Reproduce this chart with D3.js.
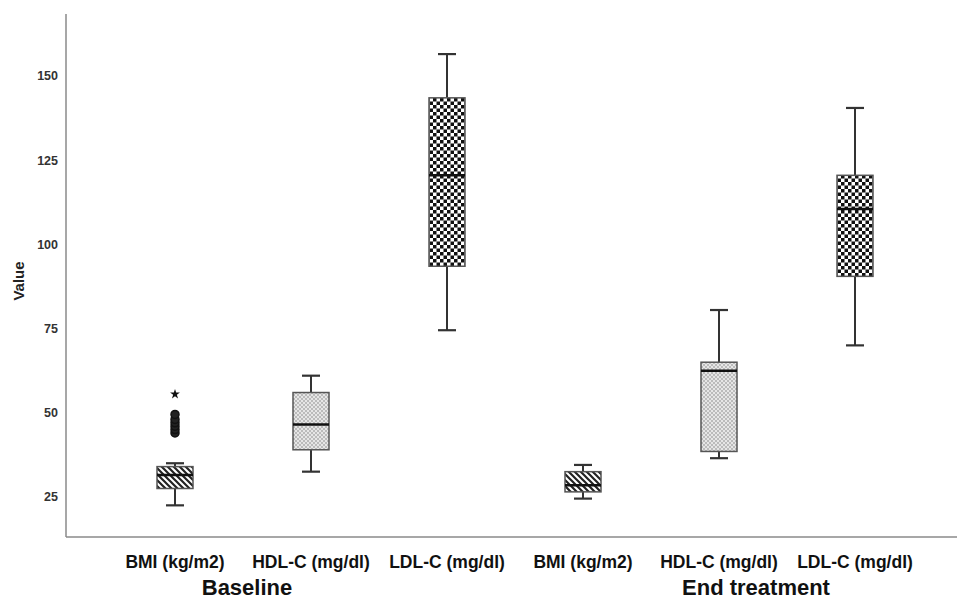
<!DOCTYPE html>
<html>
    <head>
        <meta charset="utf-8">
        <title>boxplot</title>
        <script src="https://d3js.org/d3.v7.min.js"></script>
        <style>
            body { margin: 0; background: #fff; }
            text { font-family: "Liberation Sans", Arial, sans-serif; font-weight: bold; }
        </style>
    </head>
    <body>
        <div id="chart"></div>
        <script>
            // Données
            const groups = ["Baseline", "End treatment"];
            const variables = ["BMI (kg/m2)", "HDL-C (mg/dl)", "LDL-C (mg/dl)"];
            const boxMin    = [22.5, 32.5, 74.5, 24.5, 36.5, 70];
            const boxQ1     = [27.5, 39, 93.5, 26.5, 38.5, 90.5];
            const boxMedian = [31.5, 46.5, 120.5, 28.5, 62.5, 110.5];
            const boxQ3     = [34, 56, 143.5, 32.5, 65, 120.5];
            const boxMax    = [35, 61, 156.5, 34.5, 80.5, 140.5];
            const outliers  = [44, 45, 46, 47, 48, 49.5]; // BMI baseline
            const extremes  = [55.5];                   // BMI baseline (étoile)
            const yTicks    = [25, 50, 75, 100, 125, 150];
            const patternOf = ["stripe", "dots", "checker"];

            const W = 957, H = 599;
            const plotLeft = 66, plotTop = 14, plotBottom = 537;

            const boxes = [];
            groups.forEach((g, gi) => variables.forEach((v, vi) => {
                const i = gi * 3 + vi;
                boxes.push({ key: g + "|" + v, group: g, label: v, pat: patternOf[vi],
                    min: boxMin[i], q1: boxQ1[i], med: boxMedian[i], q3: boxQ3[i], max: boxMax[i] });
            }));

            const svg = d3.select("#chart").append("svg")
                .attr("width", W).attr("height", H);

            // Motifs de remplissage
            const defs = svg.append("defs");
            const p1 = defs.append("pattern").attr("id", "stripe")
                .attr("patternUnits", "userSpaceOnUse").attr("width", 6).attr("height", 6);
            p1.append("rect").attr("width", 6).attr("height", 6).attr("fill", "#fff");
            p1.append("path").attr("d", "M-1,-1L7,7M-1,5L1,7M5,-1L7,1")
                .attr("stroke", "#222").attr("stroke-width", 2.2);

            const p2 = defs.append("pattern").attr("id", "dots")
                .attr("patternUnits", "userSpaceOnUse").attr("width", 4).attr("height", 4);
            p2.append("rect").attr("width", 4).attr("height", 4).attr("fill", "#e6e6e6");
            p2.append("rect").attr("width", 2).attr("height", 2).attr("fill", "#bbb");
            p2.append("rect").attr("x", 2).attr("y", 2).attr("width", 2).attr("height", 2).attr("fill", "#bbb");

            const p3 = defs.append("pattern").attr("id", "checker")
                .attr("patternUnits", "userSpaceOnUse").attr("width", 7).attr("height", 7);
            p3.append("rect").attr("width", 7).attr("height", 7).attr("fill", "#fff");
            p3.append("rect").attr("width", 3.5).attr("height", 3.5).attr("fill", "#111");
            p3.append("rect").attr("x", 3.5).attr("y", 3.5).attr("width", 3.5).attr("height", 3.5).attr("fill", "#111");

            // Échelles
            const x = d3.scalePoint()
                .domain(boxes.map(d => d.key))
                .range([175, 855]);

            const y = d3.scaleLinear()
                .domain([13.1, 168.4])
                .range([plotBottom, plotTop]);

            const bw = 36, cw = 18;

            // Axes
            const yAxis = svg.append("g")
                .attr("transform", `translate(${plotLeft},0)`)
                .call(d3.axisLeft(y).tickValues(yTicks).tickSize(0).tickPadding(8));
            yAxis.select(".domain").remove();
            yAxis.selectAll("text").attr("font-size", 12.5).attr("fill", "#333");

            svg.append("line").attr("x1", plotLeft).attr("x2", plotLeft)
                .attr("y1", plotTop).attr("y2", plotBottom)
                .attr("stroke", "#8a8a8a").attr("stroke-width", 1.5);
            svg.append("line").attr("x1", plotLeft).attr("x2", W)
                .attr("y1", plotBottom).attr("y2", plotBottom)
                .attr("stroke", "#8a8a8a").attr("stroke-width", 1.5);

            svg.append("text")
                .attr("transform", "translate(24,281) rotate(-90)")
                .attr("text-anchor", "middle")
                .attr("font-size", 15).attr("fill", "#222")
                .text("Value");

            // Boîtes
            const b = svg.selectAll(".box").data(boxes).enter().append("g")
                .attr("class", "box")
                .attr("transform", d => `translate(${x(d.key)},0)`);

            b.append("line").attr("y1", d => y(d.max)).attr("y2", d => y(d.q3))
                .attr("stroke", "#333").attr("stroke-width", 2);
            b.append("line").attr("y1", d => y(d.q1)).attr("y2", d => y(d.min))
                .attr("stroke", "#333").attr("stroke-width", 2);
            b.append("line").attr("x1", -cw / 2).attr("x2", cw / 2)
                .attr("y1", d => y(d.max)).attr("y2", d => y(d.max))
                .attr("stroke", "#333").attr("stroke-width", 2.2);
            b.append("line").attr("x1", -cw / 2).attr("x2", cw / 2)
                .attr("y1", d => y(d.min)).attr("y2", d => y(d.min))
                .attr("stroke", "#333").attr("stroke-width", 2.2);
            b.append("rect")
                .attr("x", -bw / 2).attr("width", bw)
                .attr("y", d => y(d.q3)).attr("height", d => y(d.q1) - y(d.q3))
                .attr("fill", d => `url(#${d.pat})`)
                .attr("stroke", "#555").attr("stroke-width", 1.5);
            b.append("line").attr("x1", -bw / 2).attr("x2", bw / 2)
                .attr("y1", d => y(d.med)).attr("y2", d => y(d.med))
                .attr("stroke", "#111").attr("stroke-width", 2.5);

            // Valeurs aberrantes (BMI baseline)
            const bmiX = x(boxes[0].key);
            svg.selectAll(".out").data(outliers).enter().append("circle")
                .attr("class", "out")
                .attr("cx", bmiX).attr("cy", d => y(d)).attr("r", 4)
                .attr("fill", "#222").attr("stroke", "#111").attr("stroke-width", 1.5);
            svg.selectAll(".ext").data(extremes).enter().append("path")
                .attr("class", "ext")
                .attr("transform", d => `translate(${bmiX},${y(d)})`)
                .attr("d", d3.symbol(d3.symbolStar, 30))
                .attr("fill", "#111");

            // Étiquettes
            svg.selectAll(".cat").data(boxes).enter().append("text")
                .attr("class", "cat")
                .attr("x", d => x(d.key)).attr("y", 568)
                .attr("text-anchor", "middle")
                .attr("font-size", 17.5).attr("fill", "#111")
                .text(d => d.label);

            const groupX = [247, 756];
            svg.selectAll(".grp").data(groups).enter().append("text")
                .attr("class", "grp")
                .attr("x", (d, i) => groupX[i]).attr("y", 595)
                .attr("text-anchor", "middle")
                .attr("font-size", 22).attr("fill", "#111")
                .text(d => d);
        </script>
    </body>
</html>
